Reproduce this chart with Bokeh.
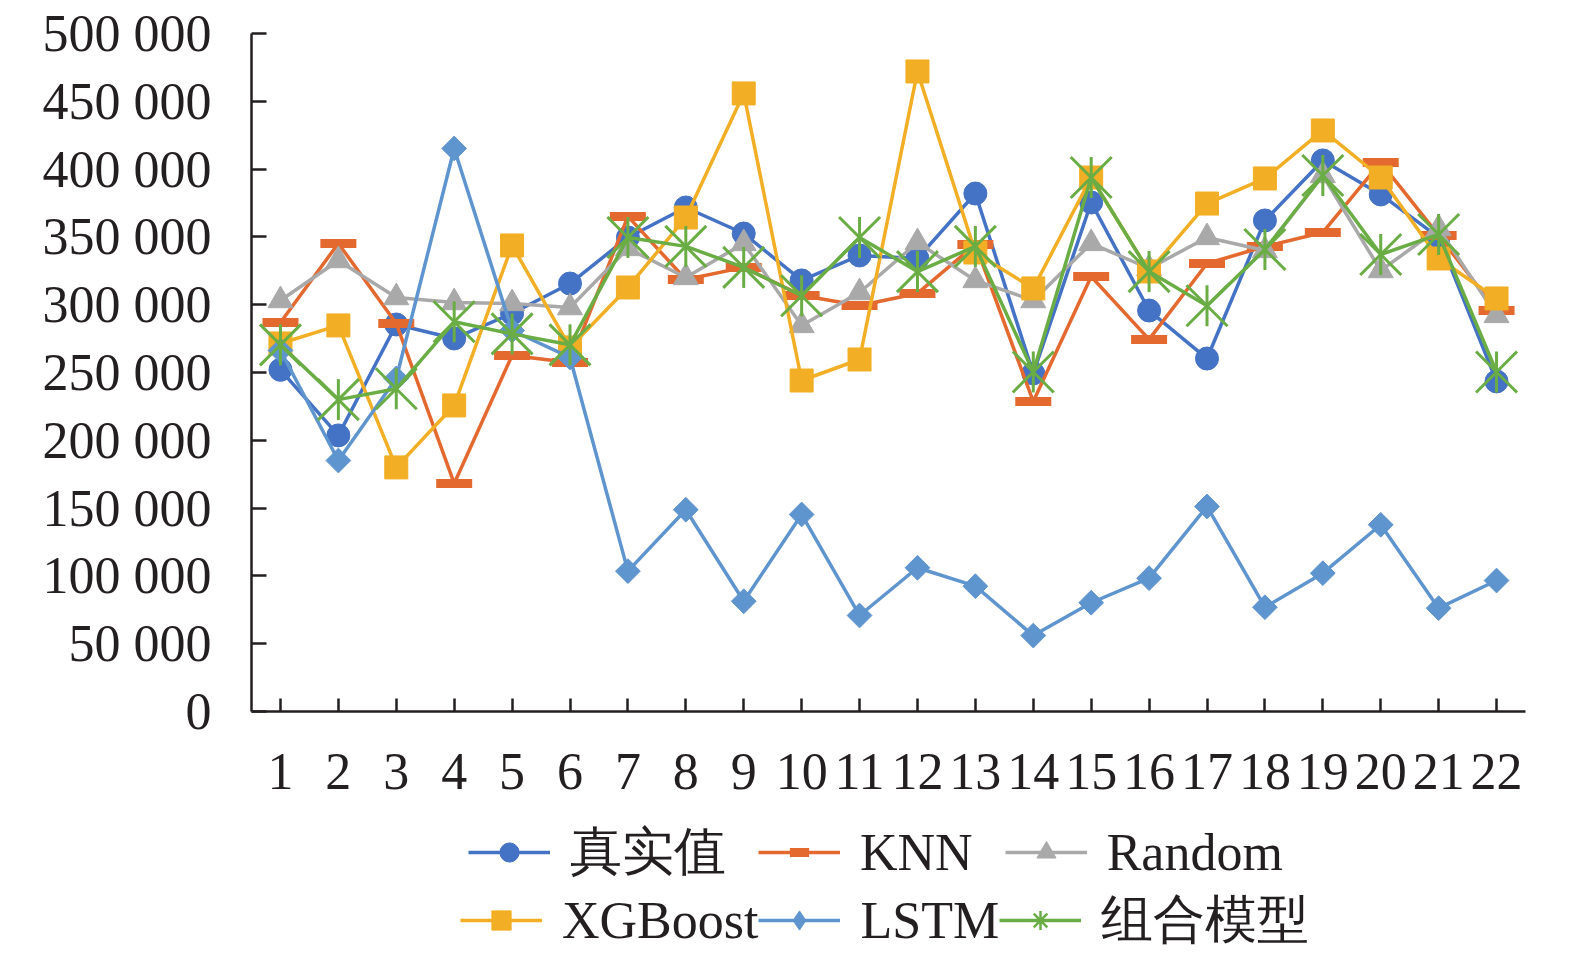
import numpy as np
from bokeh.plotting import figure
from bokeh.layouts import column
from bokeh.models import FactorRange, Range1d, FixedTicker, Legend, LegendItem
from bokeh.embed import file_html
from bokeh.resources import INLINE

# ---------------- data ----------------
categories = [str(i) for i in range(1, 23)]

true_vals = [252000, 203600, 285400, 275100, 293500, 315600, 349600, 371700, 352500, 317900, 336300,
             334100, 382000, 249300, 375400, 295700, 260300, 362100, 406400, 381300, 349600, 243400]
knn_vals = [286900, 345200, 286200, 168200, 262600, 257400, 365100, 318600, 327500, 306800, 299400,
            308300, 344400, 228600, 320800, 274400, 330400, 342900, 353300, 404900, 351100, 295700]
random_vals = [303100, 332600, 305300, 301600, 300900, 297900, 341500, 320100, 345200, 284700, 309000,
               345900, 317900, 303100, 345200, 326700, 349600, 340000, 395300, 325200, 356200, 292100]
xgb_vals = [271400, 284700, 180000, 225700, 343700, 268500, 312700, 364300, 455800, 244100, 259600,
            472000, 338500, 312000, 393800, 324500, 374600, 393100, 428500, 393800, 334100, 304600]
lstm_vals = [266200, 185100, 245600, 415200, 281000, 261100, 103500, 148800, 81300, 145300, 70800,
             106000, 92400, 56000, 80200, 98300, 151200, 76900, 102000, 137700, 76200, 96600]
combo_vals = [270400, 230000, 238000, 287400, 278500, 270400, 349600, 343000, 327500, 306600, 349600,
              324400, 343000, 250400, 393800, 324400, 299200, 340700, 395300, 337000, 351800, 250400]

series_names = ["真实值", "KNN", "Random", "XGBoost", "LSTM", "组合模型"]

y_ticks = [0, 50000, 100000, 150000, 200000, 250000, 300000, 350000, 400000, 450000, 500000]
y_tick_labels = ["0", "50 000", "100 000", "150 000", "200 000", "250 000",
                 "300 000", "350 000", "400 000", "450 000", "500 000"]

# ---------------- styling ----------------
FONT = "Liberation Serif"
FS = "52px"
TXT = "#231F20"
C_TRUE = "#4472C4"
C_KNN = "#E4692F"
C_RAND = "#A9A9A9"
C_XGB = "#F2AE24"
C_LSTM = "#5F95CE"
C_COMBO = "#6AAD45"
LW = 3.5

W = 1575
H_TOTAL = 961
H1 = 813                 # main chart figure
H2 = H_TOTAL - H1        # legend strip
TOP, LEFT, RIGHT, BOTTOM = 33, 251, 50, 102

styles = [
    dict(color=C_TRUE, marks=[dict(marker="circle", size=23, fill=True)]),
    dict(color=C_KNN, marks=[dict(marker="dash", size=36, line_width=9)]),
    dict(color=C_RAND, marks=[dict(marker="triangle", size=25, fill=True)]),
    dict(color=C_XGB, marks=[dict(marker="square", size=23, fill=True)]),
    dict(color=C_LSTM, marks=[dict(marker="square", size=17.5, fill=True, angle=np.pi / 4)],
         legend_marks=[dict(marker="diamond", size=20, fill=True)]),
    dict(color=C_COMBO, marks=[dict(marker="x", size=58, line_width=3),
                               dict(marker="dash", size=41, line_width=3, angle=np.pi / 2)],
         legend_marks=[dict(marker="asterisk", size=20, line_width=2.5)]),
]
all_vals = [true_vals, knn_vals, random_vals, xgb_vals, lstm_vals, combo_vals]


def draw_series(fig, xs, ys, st, marks):
    rs = [fig.line(xs, ys, line_color=st["color"], line_width=LW)]
    for m in marks:
        kw = dict(marker=m["marker"], size=m["size"], line_color=st["color"],
                  line_width=m.get("line_width", 1), angle=m.get("angle", 0.0))
        kw["fill_color"] = st["color"] if m.get("fill") else None
        rs.append(fig.scatter(xs, ys, **kw))
    return rs


# ---------------- main chart ----------------
p = figure(width=W, height=H1,
           x_range=FactorRange(*categories, range_padding=0),
           y_range=Range1d(0, 500000),
           output_backend="svg", toolbar_location=None,
           min_border_left=LEFT, min_border_right=RIGHT,
           min_border_top=TOP, min_border_bottom=BOTTOM)

p.xgrid.visible = False
p.ygrid.visible = False
p.outline_line_color = None
p.background_fill_color = "white"
p.border_fill_color = "white"

for ax in (p.xaxis[0], p.yaxis[0]):
    ax.axis_line_width = 2.5
    ax.axis_line_color = TXT
    ax.major_tick_line_color = TXT
    ax.major_tick_line_width = 2.5
    ax.major_tick_out = 0
    ax.minor_tick_line_color = None
    ax.major_label_text_font = FONT
    ax.major_label_text_font_size = FS
    ax.major_label_text_color = TXT

p.xaxis.major_tick_in = 13
p.xaxis.major_label_standoff = 42
p.yaxis.major_tick_in = 15
p.yaxis.major_label_standoff = 40
p.yaxis.ticker = FixedTicker(ticks=y_ticks)
p.yaxis.major_label_overrides = {t: l for t, l in zip(y_ticks, y_tick_labels)}

for vals, st in zip(all_vals, styles):
    draw_series(p, categories, vals, st, st["marks"])

# ---------------- legend strip ----------------
p2 = figure(width=W, height=H2, x_range=Range1d(0, 1), y_range=Range1d(0, 1),
            x_axis_type=None, y_axis_type=None,
            output_backend="svg", toolbar_location=None,
            min_border_left=0, min_border_right=0, min_border_top=0, min_border_bottom=0)
p2.xgrid.visible = False
p2.ygrid.visible = False
p2.outline_line_color = None
p2.background_fill_color = "white"
p2.border_fill_color = "white"

items = []
for name, st in zip(series_names, styles):
    # one point outside the visible range: only its style is used, for the legend swatch
    rs = draw_series(p2, [-5.0], [-5.0], st, st.get("legend_marks", st["marks"]))
    items.append(LegendItem(label=name, renderers=rs))

ITEM_H = 72          # legend row height (label box)
FRAME_LEFT2 = LEFT   # legend strip frame is aligned with the chart frame


def make_legend(its, img_x, img_row_center, spacing):
    vx = img_x - FRAME_LEFT2
    bottom = (img_row_center - H1) + ITEM_H / 2
    vy = H2 - bottom
    return Legend(items=its, orientation="horizontal", location=(vx, vy),
                  glyph_width=82, glyph_height=48, label_standoff=20, spacing=spacing,
                  padding=0, margin=0,
                  label_text_font=FONT, label_text_font_size=FS,
                  label_text_color=TXT, border_line_color=None, background_fill_alpha=0)


p2.add_layout(make_legend(items[0:3], 468, 851, 32))
p2.add_layout(make_legend(items[3:6], 460, 919, 0))

layout = column(p, p2, spacing=0)
open("out.html", "w").write(file_html(layout, INLINE))
